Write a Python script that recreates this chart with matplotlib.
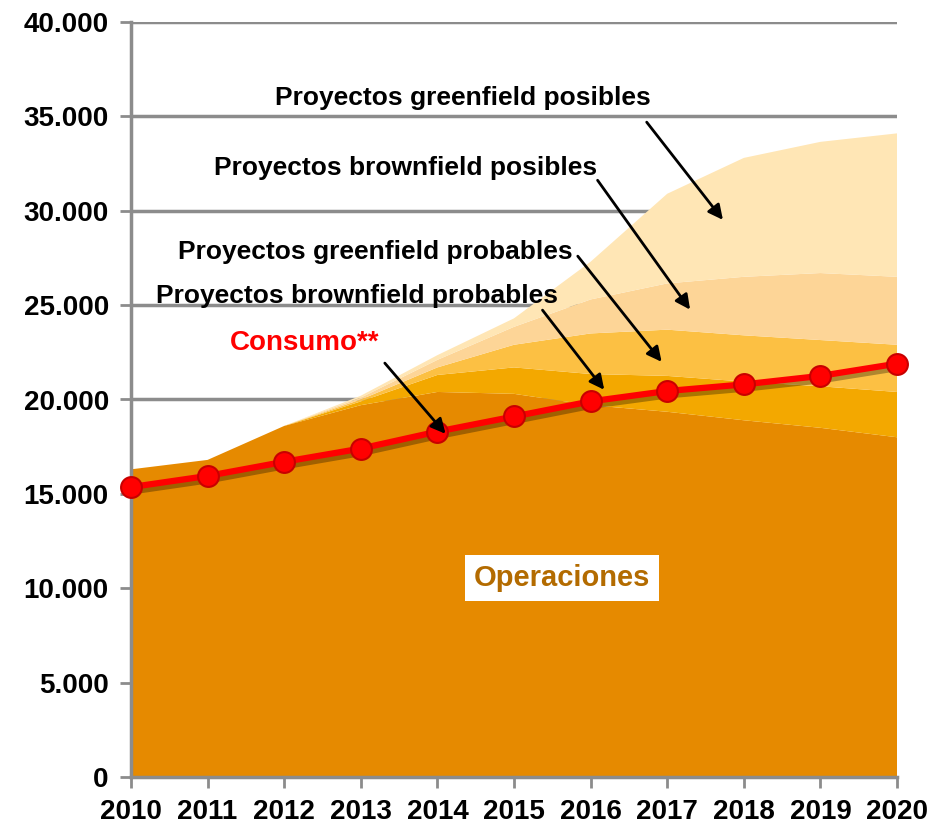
import matplotlib
matplotlib.use('Agg')
import matplotlib.pyplot as plt
import matplotlib.patheffects as pe
from matplotlib.ticker import FuncFormatter
import numpy as np

# Data
years = [2010, 2011, 2012, 2013, 2014, 2015, 2016, 2017, 2018, 2019, 2020]
operaciones = [16300, 16800, 18600, 19700, 20400, 20300, 19700, 19350, 18900, 18500, 18000]
brownfield_probables = [0, 0, 0, 200, 900, 1400, 1650, 1900, 2050, 2200, 2400]
greenfield_probables = [0, 0, 0, 100, 400, 1200, 2150, 2450, 2450, 2450, 2500]
brownfield_posibles = [0, 0, 0, 100, 400, 950, 1800, 2450, 3100, 3550, 3600]
greenfield_posibles = [0, 0, 0, 100, 250, 450, 2000, 4750, 6300, 6950, 7600]
consumo = [15360, 15950, 16700, 17400, 18300, 19100, 19900, 20450, 20800, 21250, 21900]

layer_colors = ['#E68A00', '#F3A800', '#FCC043', '#FDD597', '#FFE6B5']

plt.rcParams['font.family'] = ['Liberation Sans', 'DejaVu Sans']

fig = plt.figure(figsize=(9.51, 8.30), dpi=100)
ax = fig.add_axes([131 / 951, 53 / 830, 766 / 951, 755 / 830])

# Stacked areas
ax.stackplot(years, operaciones, brownfield_probables, greenfield_probables,
             brownfield_posibles, greenfield_posibles,
             colors=layer_colors, linewidth=0, zorder=2)

# Consumption line with a soft shadow, markers on top
ax.plot(years, consumo, color='#FF0000', lw=4.5, clip_on=False, zorder=5,
        path_effects=[pe.SimpleLineShadow(offset=(1.5, -3), shadow_color='black', alpha=0.3),
                      pe.Normal()])
ax.plot(years, consumo, linestyle='none', marker='o', markersize=15,
        markerfacecolor='#FF0000', markeredgecolor='#C80000', markeredgewidth=1.5,
        clip_on=False, zorder=6)

# Axes styling
ax.set_xlim(2010, 2020)
ax.set_ylim(0, 40000)
ax.set_yticks(np.arange(0, 40001, 5000))
ax.set_xticks(years)
ax.yaxis.set_major_formatter(FuncFormatter(lambda v, p: f'{int(v):,}'.replace(',', '.')))

ax.grid(axis='y', color='#8C8C8C', lw=2.5, zorder=1)
ax.set_axisbelow(True)
for side in ['top', 'right']:
    ax.spines[side].set_visible(False)
for side in ['left', 'bottom']:
    ax.spines[side].set_color('#8C8C8C')
    ax.spines[side].set_linewidth(2.5)
    ax.spines[side].set_zorder(3)

ax.tick_params(axis='both', color='#8C8C8C', width=2, length=8, direction='out')
ax.tick_params(axis='y', pad=8)
ax.tick_params(axis='x', pad=8)
for lbl in ax.get_yticklabels():
    lbl.set_fontsize(20)
    lbl.set_fontweight('bold')
for lbl in ax.get_xticklabels():
    lbl.set_fontsize(20)
    lbl.set_fontweight('bold')
    lbl.set_family(['Liberation Sans Narrow', 'Liberation Sans'])

# Annotations
arrow_kw = dict(arrowstyle='-|>', color='black', lw=2, mutation_scale=22)
labels = [
    ('Proyectos greenfield posibles', (2014.33, 35970), (2016.71, 34810), (2017.75, 29400)),
    ('Proyectos brownfield posibles', (2013.58, 32265), (2016.07, 31735), (2017.32, 24640)),
    ('Proyectos greenfield probables', (2013.19, 27815), (2015.81, 27710), (2016.95, 21880)),
    ('Proyectos brownfield probables', (2012.95, 25480), (2015.35, 24850), (2016.20, 20400)),
]
for text, tpos, start, end in labels:
    ax.text(tpos[0], tpos[1], text, fontsize=19, fontweight='bold', color='black',
            ha='center', va='center', zorder=7)
    ax.annotate('', xy=end, xytext=start, arrowprops=arrow_kw, zorder=7)

ax.text(2012.27, 22990, 'Consumo**', fontsize=20, fontweight='bold', color='#FF0000',
        ha='center', va='center', zorder=7)
ax.annotate('', xy=(2014.13, 18070), xytext=(2013.29, 22040), arrowprops=arrow_kw, zorder=7)

ax.text(2015.63, 10540, 'Operaciones', fontsize=21, fontweight='bold', color='#B36B00',
        ha='center', va='center', zorder=7,
        bbox=dict(boxstyle='square,pad=0.3', facecolor='white', edgecolor='none'))

fig.savefig('out.png', dpi=100)
